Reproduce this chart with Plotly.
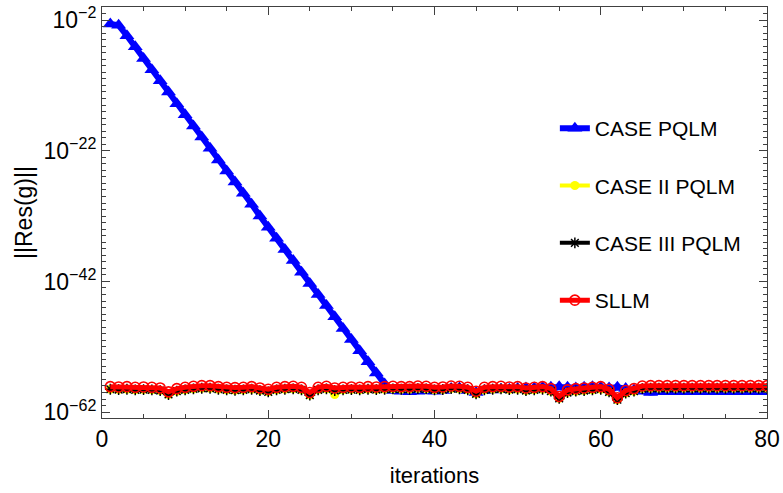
import plotly.graph_objects as go

iterations = list(range(1, 81))

# log10 of ||Res(g)||
case_pqlm_exp = [
    -2.6, -2.8, -4.4, -6.1, -7.9, -9.6, -11.3, -13.0, -14.8, -16.5,
    -18.2, -19.9, -21.6, -23.4, -25.1, -26.8, -28.5, -30.2, -32.0, -33.7,
    -35.4, -37.1, -38.8, -40.6, -42.3, -44.0, -45.7, -47.4, -49.2, -50.9,
    -52.6, -54.3, -56.0, -57.7, -58.7, -58.8, -58.9, -58.8, -58.7, -58.8,
    -58.7, -58.4, -58.3, -58.7, -59.0, -58.7, -58.6, -58.5, -58.5, -58.4,
    -58.3, -58.3, -58.2, -58.2, -58.1, -58.2, -58.3, -58.2, -58.1, -58.2,
    -58.3, -58.2, -58.4, -58.6, -58.8, -59.0, -58.9, -58.9, -58.9, -58.9,
    -58.9, -58.9, -58.9, -58.9, -58.9, -58.9, -58.9, -58.9, -58.9, -58.9,
]
case2_pqlm_exp = [
    -58.5, -58.55, -58.5, -58.6, -58.55, -58.6, -58.7, -59.3, -58.8, -58.6,
    -58.45, -58.35, -58.35, -58.5, -58.6, -58.65, -58.6, -58.5, -58.7, -58.9,
    -58.6, -58.5, -58.45, -58.6, -59.4, -58.6, -58.45, -59.3, -58.6, -58.55,
    -58.6, -58.5, -58.55, -58.5, -58.45, -58.5, -58.5, -58.4, -58.45, -58.6,
    -58.55, -58.4, -58.45, -58.6, -59.2, -58.6, -58.5, -58.45, -58.55, -58.5,
    -58.7, -58.6, -58.5, -58.8, -59.9, -59.0, -58.8, -58.7, -58.6, -58.5,
    -58.9, -60.1, -59.1, -58.8, -58.4, -58.35, -58.35, -58.35, -58.35, -58.35,
    -58.35, -58.35, -58.35, -58.35, -58.35, -58.35, -58.35, -58.35, -58.35, -58.35,
]
case3_pqlm_exp = [
    -58.5, -58.55, -58.5, -58.6, -58.55, -58.6, -58.7, -59.3, -58.8, -58.6,
    -58.45, -58.35, -58.35, -58.5, -58.6, -58.65, -58.6, -58.5, -58.7, -58.9,
    -58.6, -58.5, -58.45, -58.6, -59.4, -58.6, -58.45, -58.7, -58.6, -58.55,
    -58.6, -58.5, -58.55, -58.5, -58.45, -58.5, -58.5, -58.4, -58.45, -58.6,
    -58.55, -58.4, -58.45, -58.6, -59.2, -58.6, -58.5, -58.45, -58.55, -58.5,
    -58.7, -58.6, -58.5, -58.8, -59.9, -59.0, -58.8, -58.7, -58.6, -58.5,
    -58.9, -60.1, -59.1, -58.8, -58.4, -58.35, -58.35, -58.35, -58.35, -58.35,
    -58.35, -58.35, -58.35, -58.35, -58.35, -58.35, -58.35, -58.35, -58.35, -58.35,
]
sllm_exp = [
    -58.1, -58.15, -58.1, -58.2, -58.15, -58.2, -58.3, -58.9, -58.4, -58.2,
    -58.05, -57.95, -57.95, -58.1, -58.2, -58.25, -58.2, -58.1, -58.3, -58.5,
    -58.2, -58.1, -58.05, -58.2, -59.0, -58.2, -58.05, -58.3, -58.2, -58.15,
    -58.2, -58.1, -58.15, -58.1, -58.05, -58.1, -58.1, -58.0, -58.05, -58.2,
    -58.15, -58.0, -58.05, -58.2, -58.8, -58.2, -58.1, -58.05, -58.15, -58.1,
    -58.3, -58.2, -58.1, -58.4, -59.6, -58.6, -58.4, -58.3, -58.2, -58.1,
    -58.5, -59.8, -58.7, -58.4, -58.0, -57.95, -57.95, -57.95, -57.95, -57.95,
    -57.95, -57.95, -57.95, -57.95, -57.95, -57.95, -57.95, -57.95, -57.95, -57.95,
]

y_tick_exps = [-2, -22, -42, -62]
y_tick_labels = ["10<sup>−2</sup>", "10<sup>−22</sup>", "10<sup>−42</sup>", "10<sup>−62</sup>"]
x_tick_vals = [0, 20, 40, 60, 80]

FONT = "Liberation Sans, Arial, sans-serif"

series = [
    ("CASE PQLM", case_pqlm_exp, "blue", 6, dict(symbol="triangle-up", size=13, color="blue")),
    ("CASE II PQLM", case2_pqlm_exp, "yellow", 4, dict(symbol="circle", size=9, color="yellow")),
    ("CASE III PQLM", case3_pqlm_exp, "black", 4, dict(symbol="asterisk-open", size=9, color="black", line=dict(width=1.5, color="black"))),
    ("SLLM", sllm_exp, "red", 5, dict(symbol="circle-open", size=10, color="red", line=dict(width=1.6, color="red"))),
]

fig = go.Figure()
for i, (name, exps, col, lw, mk) in enumerate(series):
    fig.add_trace(go.Scatter(
        x=iterations, y=[10.0 ** e for e in exps], name=name, mode="lines+markers",
        line=dict(color=col, width=lw), marker=mk, legendgroup="g%d" % i,
    ))

frame_col = "#404040"
fig.update_layout(
    width=783, height=493,
    margin=dict(l=102, r=16, t=7, b=75),
    paper_bgcolor="white", plot_bgcolor="white",
    font=dict(family=FONT, size=22, color="black"),
    showlegend=True,
    legend=dict(x=0.681, y=0.754, xanchor="left", yanchor="top",
                bgcolor="rgba(0,0,0,0)", font=dict(size=21, family=FONT),
                tracegroupgap=27, itemwidth=30),
    xaxis=dict(
        range=[0, 80], tickvals=x_tick_vals, ticks="inside", ticklen=8, tickwidth=1,
        tickcolor=frame_col, showline=True, linecolor=frame_col, linewidth=1,
        mirror="allticks", showgrid=False, zeroline=False, automargin=False,
        minor=dict(dtick=5, tick0=0, ticks="inside", ticklen=4, tickcolor=frame_col),
        title=dict(text="iterations", font=dict(size=22), standoff=17),
        tickfont=dict(size=23),
    ),
    yaxis=dict(
        type="log", range=[-62.9, 0.0],
        tickmode="array", tickvals=[10.0 ** e for e in y_tick_exps], ticktext=y_tick_labels,
        ticks="inside", ticklen=8, tickwidth=1, tickcolor=frame_col,
        showline=True, linecolor=frame_col, linewidth=1, mirror="allticks",
        showgrid=False, zeroline=False, automargin=False,
        minor=dict(tickmode="array", tickvals=[10.0 ** k for k in range(-62, 1) if k not in y_tick_exps],
                   ticks="inside", ticklen=4, tickcolor=frame_col),
        title=dict(text="||Res(g)||", font=dict(size=23), standoff=4),
        tickfont=dict(size=23),
    ),
)

fig.write_html("out.html", post_script="document.body.style.margin='0';",
               config={"displayModeBar": False})
